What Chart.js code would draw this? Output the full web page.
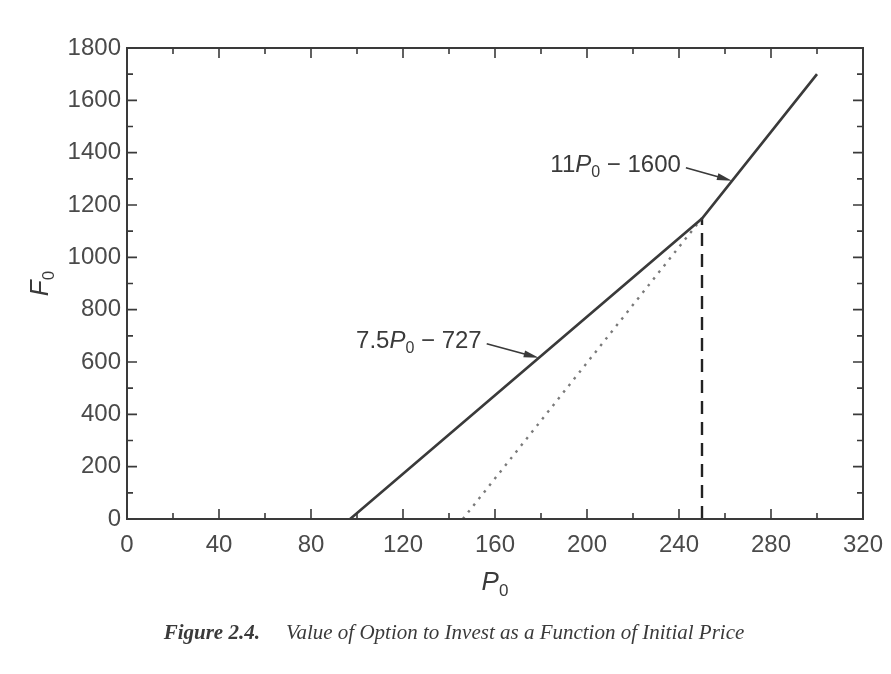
<!doctype html>
<html lang="en">
<head>
<meta charset="utf-8">
<title>Figure 2.4</title>
<script src="https://cdn.jsdelivr.net/npm/chart.js@4.4.1/dist/chart.umd.min.js"></script>
<style>
  body { margin: 0; background: #fff; }
  #wrap { position: relative; width: 891px; height: 674px; }
</style>
</head>
<body>
<div id="wrap"><canvas id="fig" width="891" height="674"></canvas></div>

<script>
// ---- data ----
var xTicks = [0, 40, 80, 120, 160, 200, 240, 280, 320];
var yTicks = [0, 200, 400, 600, 800, 1000, 1200, 1400, 1600, 1800];

// option value F0 (solid, kinked at P* = 250)
var optionP = [97, 250, 300];
var optionF = [0, 1148, 1700];
// continuation of 11P0 - 1600 below P* (dotted)
var dottedP = [146, 250];
var dottedF = [0, 1150];
// critical price P* (dashed vertical)
var critP = [250, 250];
var critF = [0, 1150];

// labels with arrows: text pieces + point on the curve they point at
var notes = [
  { parts: [['7.5', ''], ['P', 'i'], ['0', 's'], [' \u2212 727', '']], px: 179, py: 616, dx: -52, dy: -14 },
  { parts: [['11', ''], ['P', 'i'], ['0', 's'], [' \u2212 1600', '']], px: 263, py: 1293, dx: -46, dy: -13 }
];

function pts(xs, ys) {
  return xs.map(function (x, i) { return { x: x, y: ys[i] }; });
}

var INK = '#3a3a3a';
var FONT = '"Liberation Sans", Arial, sans-serif';
var SERIF = '"Liberation Serif", "Times New Roman", serif';

// draws text with italic letters and subscripts; returns width
function rich(ctx, parts, x, y, size, align) {
  function setFont(st) {
    if (st === 's') ctx.font = Math.round(size * 0.66) + 'px ' + FONT;
    else if (st === 'i') ctx.font = 'italic ' + size + 'px ' + FONT;
    else ctx.font = size + 'px ' + FONT;
  }
  var w = 0;
  parts.forEach(function (p) { setFont(p[1]); w += ctx.measureText(p[0]).width; });
  var cx = align === 'right' ? x - w : (align === 'center' ? x - w / 2 : x);
  ctx.textAlign = 'left';
  ctx.textBaseline = 'alphabetic';
  parts.forEach(function (p) {
    setFont(p[1]);
    ctx.fillText(p[0], cx, p[1] === 's' ? y + size * 0.22 : y);
    cx += ctx.measureText(p[0]).width;
  });
  return w;
}

// frame with inward ticks on all four sides
var framePlugin = {
  id: 'frame',
  afterDatasetsDraw: function (chart) {
    var ctx = chart.ctx, a = chart.chartArea;
    var xs = chart.scales.x, ys = chart.scales.y;
    ctx.save();
    ctx.strokeStyle = INK;
    ctx.lineWidth = 2;
    ctx.strokeRect(a.left, a.top, a.right - a.left, a.bottom - a.top);
    ctx.lineWidth = 1.6;
    ctx.beginPath();
    for (var v = 0; v <= 320; v += 20) {
      var px = xs.getPixelForValue(v), len = v % 40 === 0 ? 10 : 6;
      ctx.moveTo(px, a.bottom); ctx.lineTo(px, a.bottom - len);
      ctx.moveTo(px, a.top); ctx.lineTo(px, a.top + len);
    }
    for (var f = 0; f <= 1800; f += 100) {
      var py = ys.getPixelForValue(f), l2 = f % 200 === 0 ? 10 : 6;
      ctx.moveTo(a.left, py); ctx.lineTo(a.left + l2, py);
      ctx.moveTo(a.right, py); ctx.lineTo(a.right - l2, py);
    }
    ctx.stroke();
    ctx.restore();
  },
  afterDraw: function (chart) {
    var ctx = chart.ctx, a = chart.chartArea;
    var xs = chart.scales.x, ys = chart.scales.y;
    ctx.save();
    ctx.fillStyle = INK;
    ctx.strokeStyle = INK;

    // annotations
    notes.forEach(function (n) {
      var tx = xs.getPixelForValue(n.px), ty = ys.getPixelForValue(n.py);
      var sx = tx + n.dx, sy = ty + n.dy;
      rich(ctx, n.parts, sx - 5, sy + 4, 24, 'right');
      var ang = Math.atan2(ty - sy, tx - sx);
      ctx.lineWidth = 1.6;
      ctx.beginPath(); ctx.moveTo(sx, sy); ctx.lineTo(tx - 8 * Math.cos(ang), ty - 8 * Math.sin(ang)); ctx.stroke();
      ctx.beginPath();
      ctx.moveTo(tx, ty);
      ctx.lineTo(tx - 15 * Math.cos(ang) + 3.5 * Math.sin(ang), ty - 15 * Math.sin(ang) - 3.5 * Math.cos(ang));
      ctx.lineTo(tx - 15 * Math.cos(ang) - 3.5 * Math.sin(ang), ty - 15 * Math.sin(ang) + 3.5 * Math.cos(ang));
      ctx.closePath(); ctx.fill();
    });

    // axis titles
    rich(ctx, [['P', 'i'], ['0', 's']], (a.left + a.right) / 2, 590, 26, 'center');
    ctx.save();
    ctx.translate(48, (a.top + a.bottom) / 2);
    ctx.rotate(-Math.PI / 2);
    rich(ctx, [['F', 'i'], ['0', 's']], 0, 0, 26, 'center');
    ctx.restore();

    // caption
    ctx.textBaseline = 'alphabetic';
    ctx.textAlign = 'left';
    var head = 'Figure 2.4.';
    var body = 'Value of Option to Invest as a Function of Initial Price';
    ctx.font = 'bold italic 21px ' + SERIF;
    var hw = ctx.measureText(head).width;
    ctx.font = 'italic 21px ' + SERIF;
    var bw = ctx.measureText(body).width;
    var gap = 26, start = 454 - (hw + gap + bw) / 2;
    ctx.font = 'bold italic 21px ' + SERIF;
    ctx.fillText(head, start, 639);
    ctx.font = 'italic 21px ' + SERIF;
    ctx.fillText(body, start + hw + gap, 639);
    ctx.restore();
  }
};

var chart = new Chart(document.getElementById('fig').getContext('2d'), {
  type: 'scatter',
  data: {
    datasets: [
      { label: 'F0', data: pts(optionP, optionF), showLine: true, borderColor: INK, borderWidth: 2.6, pointRadius: 0 },
      { label: '11P0 - 1600', data: pts(dottedP, dottedF), showLine: true, borderColor: '#7a7a7a', borderWidth: 2.4, borderDash: [2.5, 6], pointRadius: 0 },
      { label: 'P*', data: pts(critP, critF), showLine: true, borderColor: '#222', borderWidth: 2.4, borderDash: [13, 8], pointRadius: 0 }
    ]
  },
  options: {
    responsive: false,
    animation: false,
    layout: { padding: { left: 0, top: 48, right: 28, bottom: 0 } },
    plugins: { legend: { display: false }, tooltip: { enabled: false } },
    scales: {
      x: {
        type: 'linear', min: 0, max: 320,
        afterBuildTicks: function (s) { s.ticks = xTicks.map(function (v) { return { value: v }; }); },
        afterFit: function (s) { s.height = 155; s.paddingLeft = 0; s.paddingRight = 0; },
        grid: { display: false, drawTicks: false },
        border: { display: false },
        ticks: { color: '#4a4a4a', padding: 12, font: { family: FONT, size: 24 }, callback: function (v) { return String(v); } }
      },
      y: {
        type: 'linear', min: 0, max: 1800,
        afterBuildTicks: function (s) { s.ticks = yTicks.map(function (v) { return { value: v }; }); },
        afterFit: function (s) { s.width = 127; s.paddingTop = 0; s.paddingBottom = 0; },
        grid: { display: false, drawTicks: false },
        border: { display: false },
        ticks: { color: '#4a4a4a', padding: 6, font: { family: FONT, size: 24 }, callback: function (v) { return String(v); } }
      }
    }
  },
  plugins: [framePlugin]
});
</script>
</body>
</html>
